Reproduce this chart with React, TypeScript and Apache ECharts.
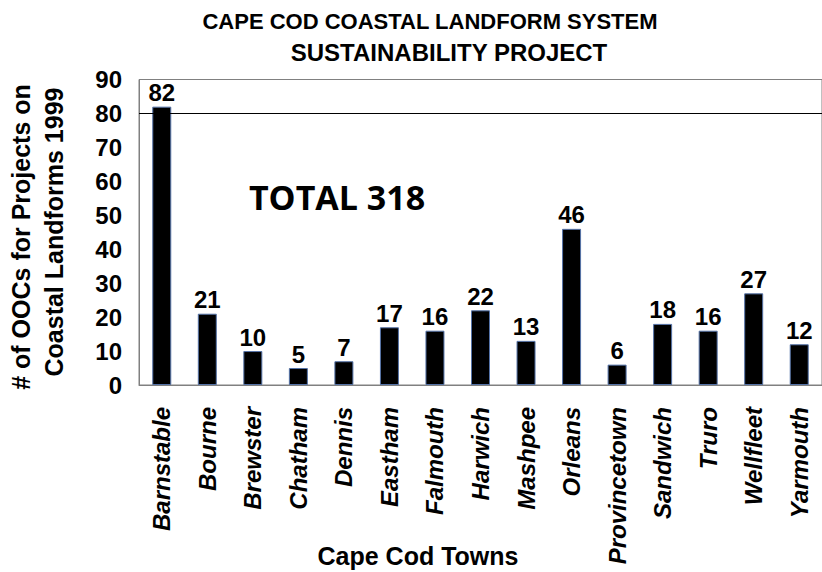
import React, { useEffect, useRef } from "react";
import * as echarts from "echarts";

const towns = [
  "Barnstable", "Bourne", "Brewster", "Chatham", "Dennis", "Eastham", "Falmouth",
  "Harwich", "Mashpee", "Orleans", "Provincetown", "Sandwich", "Truro", "Wellfleet", "Yarmouth",
];
const oocCounts = [82, 21, 10, 5, 7, 17, 16, 22, 13, 46, 6, 18, 16, 27, 12];
const titleLines = ["CAPE COD COASTAL LANDFORM SYSTEM", "SUSTAINABILITY PROJECT"];
const yAxisTitle = ["# of OOCs for Projects on", "Coastal Landforms 1999"];
const xAxisTitle = "Cape Cod Towns";
const totalNote = "TOTAL 318";
const referenceLineValue = 80;

const FONT = "Arial, 'Liberation Sans', Helvetica, sans-serif";

export default function App() {
  const ref = useRef<HTMLDivElement>(null);
  useEffect(() => {
    document.body.style.margin = "0";
    if (!ref.current) return;
    const chart = echarts.init(ref.current, null, { renderer: "svg" });
    chart.setOption({
      animation: false,
      backgroundColor: "#ffffff",
      grid: {
        left: 139,
        right: -4,
        top: 79.5,
        bottom: 187,
        show: true,
        borderColor: "#808080",
        borderWidth: 1,
        backgroundColor: "transparent",
      },
      xAxis: {
        type: "category",
        data: towns,
        axisLine: { show: true, lineStyle: { color: "#808080", width: 1 } },
        axisTick: { show: false },
        axisLabel: {
          interval: 0,
          rotate: 90,
          margin: 22,
          fontFamily: FONT,
          fontSize: 24,
          fontWeight: "bold",
          fontStyle: "italic",
          color: "#000",
        },
      },
      yAxis: {
        type: "value",
        min: 0,
        max: 90,
        interval: 10,
        axisLine: { show: true, lineStyle: { color: "#808080", width: 1 } },
        axisTick: { show: false },
        splitLine: { show: false },
        axisLabel: {
          margin: 17,
          fontFamily: FONT,
          fontSize: 24,
          fontWeight: "bold",
          color: "#000",
        },
      },
      series: [
        {
          type: "bar",
          data: oocCounts,
          barWidth: 19,
          itemStyle: { color: "#000000", borderColor: "#5573a8", borderWidth: 1 },
          label: {
            show: true,
            position: "top",
            distance: 2,
            fontFamily: FONT,
            fontSize: 24,
            fontWeight: "bold",
            color: "#000",
          },
          markLine: {
            silent: true,
            symbol: "none",
            label: { show: false },
            lineStyle: { color: "#000", width: 1, type: "solid" },
            data: [{ yAxis: referenceLineValue }],
          },
        },
      ],
      graphic: [
        {
          type: "text",
          x: 430,
          y: 21,
          style: {
            text: titleLines[0],
            fontFamily: FONT,
            fontSize: 22,
            fontWeight: "bold",
            fill: "#000",
            align: "center",
            verticalAlign: "middle",
          },
        },
        {
          type: "text",
          x: 449,
          y: 52,
          style: {
            text: titleLines[1],
            fontFamily: FONT,
            fontSize: 24,
            fontWeight: "bold",
            fill: "#000",
            align: "center",
            verticalAlign: "middle",
          },
        },
        {
          type: "text",
          x: 21,
          y: 237,
          rotation: Math.PI / 2,
          style: {
            text: yAxisTitle[0],
            fontFamily: FONT,
            fontSize: 25,
            fontWeight: "bold",
            fill: "#000",
            align: "center",
            verticalAlign: "middle",
          },
        },
        {
          type: "text",
          x: 54,
          y: 232,
          rotation: Math.PI / 2,
          style: {
            text: yAxisTitle[1],
            fontFamily: FONT,
            fontSize: 25,
            fontWeight: "bold",
            fill: "#000",
            align: "center",
            verticalAlign: "middle",
          },
        },
        {
          type: "text",
          x: 418,
          y: 556,
          style: {
            text: xAxisTitle,
            fontFamily: FONT,
            fontSize: 25,
            fontWeight: "bold",
            fill: "#000",
            align: "center",
            verticalAlign: "middle",
          },
        },
        {
          type: "text",
          x: 337,
          y: 197,
          style: {
            text: totalNote,
            fontFamily: "'Open Sans', sans-serif",
            fontSize: 34,
            fontWeight: "bold",
            fill: "#000",
            align: "center",
            verticalAlign: "middle",
          },
        },
      ],
    });
    return () => chart.dispose();
  }, []);
  return <div ref={ref} style={{ width: 822, height: 572 }} />;
}
